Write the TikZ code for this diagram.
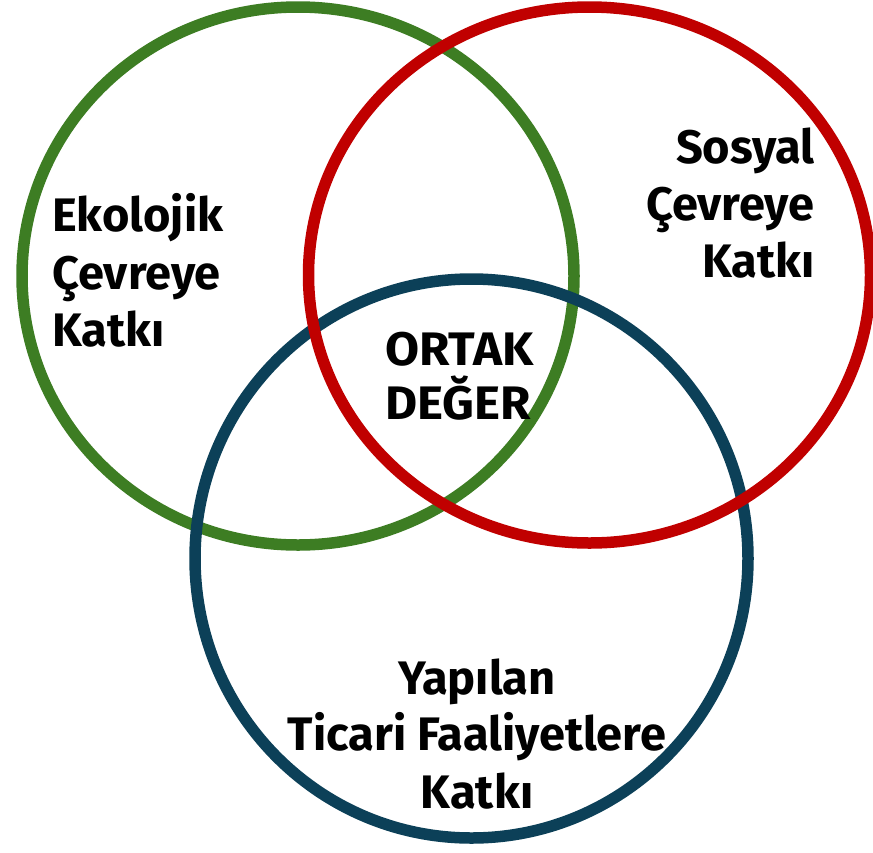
\documentclass[tikz,border=0pt]{standalone}
\usepackage{fontspec}
\setmainfont{Fira Sans}
\definecolor{cgreen}{RGB}{61,125,35}
\definecolor{cred}{RGB}{192,0,0}
\definecolor{cblue}{RGB}{12,64,88}
\begin{document}
\begin{tikzpicture}[x=1pt,y=-1pt,
  ring/.style={line width=11.5pt},
  lbl/.style={font=\bfseries\fontsize{47}{57}\selectfont, inner sep=0pt, text=black}]
\useasboundingbox (0,0) rectangle (873,852);
\draw[ring, cgreen] (298,276) ellipse [x radius=276pt, y radius=269pt];
\draw[ring, cblue] (471.5,558.5) ellipse [x radius=276.5pt, y radius=279.5pt];
\draw[ring, cred] (589.5,275) ellipse [x radius=281pt, y radius=268pt];
% left block
\node[lbl, anchor=base west] (e1) at (52,231) {Ekolojik};
\node[lbl, anchor=base west] (e2) at (52,289) {Çevreye};
\node[lbl, anchor=base west] (e3) at (52,346) {Katkı};
% right block
\node[lbl, anchor=base east] (s1) at (815,163) {Sosyal};
\node[lbl, anchor=base east] (s2) at (815,220) {Çevreye};
\node[lbl, anchor=base east] (s3) at (815,277) {Katkı};
% center
\node[lbl, anchor=base west, xscale=1.05] (o1) at (385,365) {ORTAK};
\node[lbl, anchor=base west, xscale=1.05] (o2) at (385,419) {DEĞER};
% bottom
\node[lbl, anchor=base] (y1) at (477,694) {Yapılan};
\node[lbl, anchor=base] (y2) at (477,750) {Ticari Faaliyetlere};
\node[lbl, anchor=base] (y3) at (477,808) {Katkı};
\end{tikzpicture}
\end{document}
